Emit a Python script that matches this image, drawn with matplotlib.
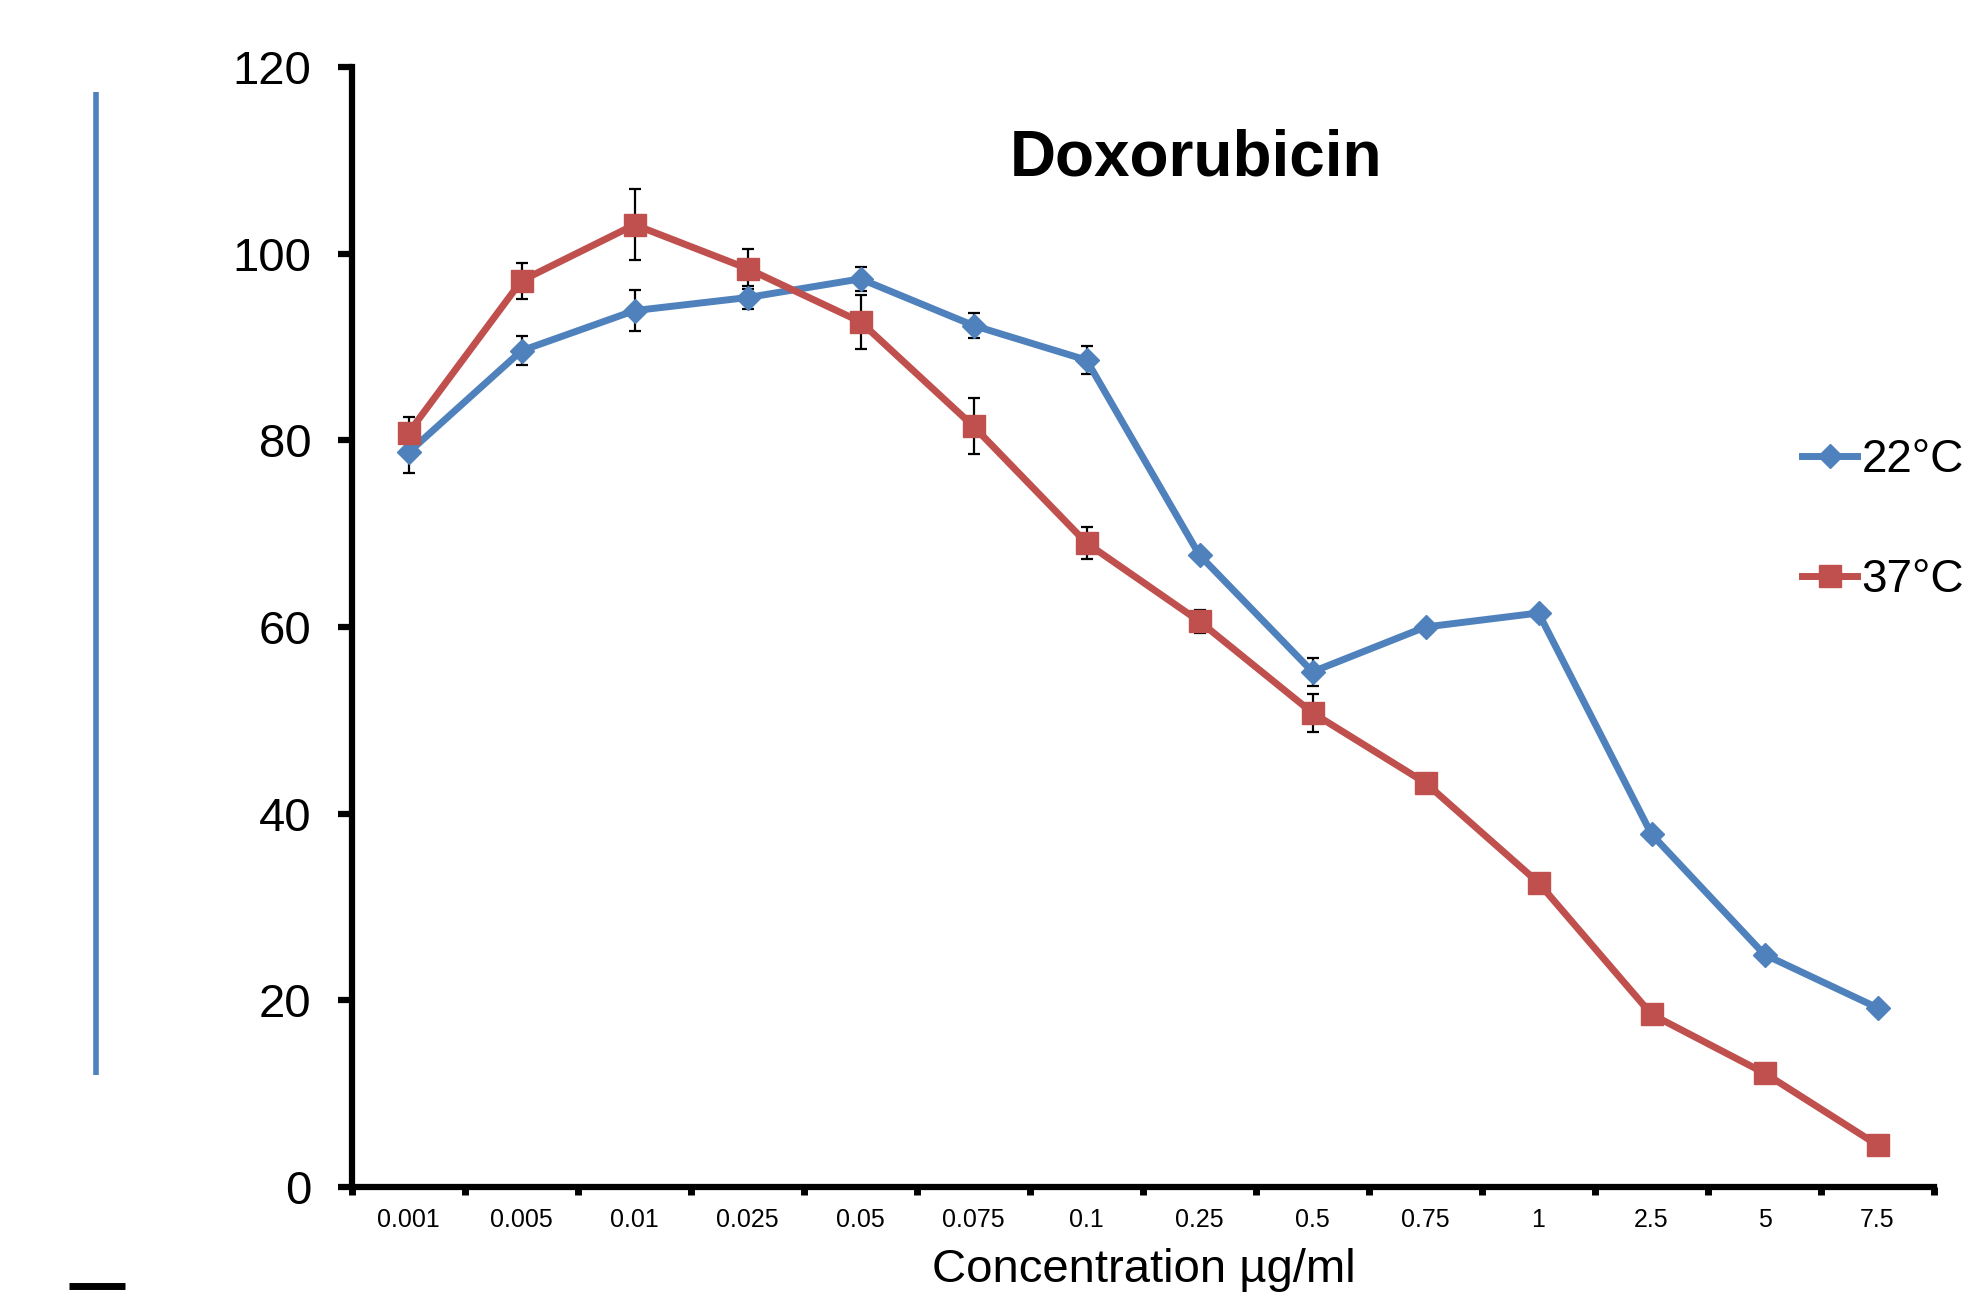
import numpy as np
import matplotlib
matplotlib.use("Agg")
import matplotlib.pyplot as plt
from matplotlib.lines import Line2D

plt.rcParams['font.family'] = ['Liberation Sans', 'DejaVu Sans']

# data
concentrations = ["0.001", "0.005", "0.01", "0.025", "0.05", "0.075", "0.1",
                  "0.25", "0.5", "0.75", "1", "2.5", "5", "7.5"]
viab_22 = [78.7, 89.6, 93.9, 95.3, 97.3, 92.3, 88.6, 67.7, 55.2, 60.0, 61.5, 37.8, 24.9, 19.2]
err_22 = [2.2, 1.55, 2.2, 1.2, 1.25, 1.35, 1.5, 0.45, 1.5, 0, 0, 0.6, 0.6, 0]
viab_37 = [80.8, 97.1, 103.1, 98.4, 92.7, 81.5, 69.0, 60.6, 50.8, 43.3, 32.6, 18.5, 12.2, 4.5]
err_37 = [1.65, 1.95, 3.8, 2.15, 2.9, 3.0, 1.7, 1.25, 2.0, 0, 0, 0, 0, 0]
yticks = [0, 20, 40, 60, 80, 100, 120]

blue = '#4F81BD'
red = '#C0504D'

W, H = 1972, 1293
fig = plt.figure(figsize=(W / 100, H / 100), dpi=100)
ax = fig.add_axes([352 / W, 1 - 1187 / H, 1582 / W, 1120 / H])

x = np.arange(len(concentrations))

# error bars first so the lines sit on top
ax.errorbar(x, viab_22, yerr=err_22, fmt='none', ecolor='black',
            elinewidth=1.6, capsize=4.5, capthick=1.6, zorder=2)
ax.errorbar(x, viab_37, yerr=err_37, fmt='none', ecolor='black',
            elinewidth=1.6, capsize=4.5, capthick=1.6, zorder=2)
l22, = ax.plot(x, viab_22, color=blue, lw=5, marker='D', markersize=12.5,
               markeredgecolor=blue, mew=1, label='22°C', zorder=3)
l37, = ax.plot(x, viab_37, color=red, lw=5, marker='s', markersize=16,
               markeredgecolor=red, mew=1, label='37°C', zorder=4)

ax.set_xlim(-0.5, len(concentrations) - 0.5)
ax.set_ylim(0, 120)
ax.set_yticks(yticks)
ax.set_xticks(x)
ax.set_xticklabels(concentrations)
ax.set_xticks(np.arange(-0.5, len(concentrations), 1.0), minor=True)

for s in ['top', 'right']:
    ax.spines[s].set_visible(False)
for s in ['left', 'bottom']:
    ax.spines[s].set_linewidth(4.5)
    ax.spines[s].set_capstyle('projecting')

ax.tick_params(axis='y', direction='out', length=10, width=4.5, pad=19, labelsize=34)
ax.tick_params(axis='x', which='major', length=0, pad=15, labelsize=18)
ax.tick_params(axis='x', which='minor', direction='out', length=6, width=5)

fig.text(1196 / W, 1 - 175 / H, 'Doxorubicin', ha='center', va='baseline',
         fontsize=46, fontweight='bold')
fig.text(1144 / W, 1 - 1282 / H, 'Concentration µg/ml', ha='center',
         va='baseline', fontsize=34)

ax.legend(handles=[l22, l37], loc='upper left',
          bbox_to_anchor=(1802 / W, 1 - 438 / H), bbox_transform=fig.transFigure,
          frameon=False, fontsize=33, handlelength=1.2, handletextpad=0.1,
          labelspacing=1.65, borderpad=0, borderaxespad=0)

# stray marks at the left edge of the original picture
fig.add_artist(Line2D([96 / W, 96 / W], [1 - 92 / H, 1 - 1075 / H],
                      color=blue, lw=4, solid_capstyle='butt'))
fig.add_artist(Line2D([69 / W, 125 / W], [1 - 1286 / H, 1 - 1286 / H],
                      color='black', lw=5, solid_capstyle='butt'))

fig.savefig('out.png', dpi=100)
